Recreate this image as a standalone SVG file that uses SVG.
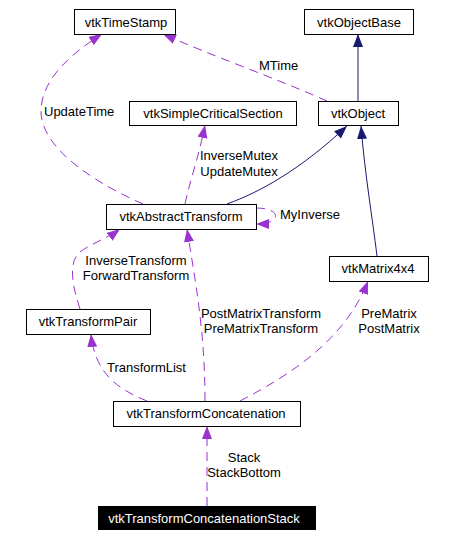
<svg xmlns="http://www.w3.org/2000/svg" width="450" height="538" viewBox="0 0 450 538">
<style>
text{font-family:"Liberation Sans",Arial,sans-serif;font-size:13px;fill:#000}
.n rect{fill:#fff;stroke:#000;stroke-width:1}
.n text{text-anchor:middle}
.u{fill:none;stroke:#9a32cd;stroke-width:1;stroke-dasharray:9,6}
.h{fill:none;stroke:#191970;stroke-width:1}
.m{text-anchor:middle}
</style>
<defs>
<marker id="ap" markerUnits="userSpaceOnUse" markerWidth="14" markerHeight="11" refX="13" refY="5" orient="auto"><path d="M0,0L13,5L0,10z" fill="#9a32cd"/></marker>
<marker id="an" markerUnits="userSpaceOnUse" markerWidth="14" markerHeight="11" refX="13" refY="5" orient="auto"><path d="M0,0L13,5L0,10z" fill="#191970"/></marker>
</defs>
<g id="connectors">
<path class="h" d="M358,101L358,34" marker-end="url(#an)"/>
<path class="u" d="M327,101C280,80 210,55 163,34" marker-end="url(#ap)"/>
<path class="u" d="M143,204C100,185 40,150 41,110C42,75 80,48 102,34" marker-end="url(#ap)"/>
<path class="u" d="M185,204C190,180 198,160 205,125" marker-end="url(#ap)"/>
<path class="h" d="M227,204C260,192 300,170 347,126" marker-end="url(#an)"/>
<path class="h" d="M377,256C372,215 365,175 361,126" marker-end="url(#an)"/>
<path class="u" d="M256,208C282,208 282,224 256,224" marker-end="url(#ap)"/>
<path class="u" d="M80,309C72,285 68,262 80,252C92,243 108,238 120,229" marker-end="url(#ap)"/>
<path class="u" d="M205,401C205,330 195,280 187,229" marker-end="url(#ap)"/>
<path class="u" d="M147,401C120,390 95,375 91,334" marker-end="url(#ap)"/>
<path class="u" d="M240,401C290,375 345,340 368,281" marker-end="url(#ap)"/>
<path class="u" d="M207,506L207,426" marker-end="url(#ap)"/>
<text x="259" y="70">MTime</text>
<text x="44" y="116">UpdateTime</text>
<text class="m" x="239" y="160">InverseMutex</text>
<text class="m" x="239" y="176">UpdateMutex</text>
<text x="280" y="219">MyInverse</text>
<text class="m" x="136" y="265">InverseTransform</text>
<text class="m" x="136" y="280">ForwardTransform</text>
<text class="m" x="261" y="318">PostMatrixTransform</text>
<text class="m" x="261" y="333">PreMatrixTransform</text>
<text class="m" x="389" y="318">PreMatrix</text>
<text class="m" x="389" y="333">PostMatrix</text>
<text x="107" y="372">TransformList</text>
<text class="m" x="244" y="462">Stack</text>
<text class="m" x="244" y="477">StackBottom</text>
</g>
<g id="vtkTimeStamp" class="n"><rect x="74.5" y="9.5" width="101" height="25"/><text x="126" y="26.5">vtkTimeStamp</text></g>
<g id="vtkObjectBase" class="n"><rect x="304.5" y="9.5" width="109" height="25"/><text x="359" y="26.5">vtkObjectBase</text></g>
<g id="vtkSimpleCriticalSection" class="n"><rect x="129.5" y="101.5" width="167" height="24"/><text x="213" y="118">vtkSimpleCriticalSection</text></g>
<g id="vtkObject" class="n"><rect x="318.5" y="101.5" width="80" height="24"/><text x="358" y="118">vtkObject</text></g>
<g id="vtkAbstractTransform" class="n"><rect x="106.5" y="204.5" width="150" height="25"/><text x="181" y="221">vtkAbstractTransform</text></g>
<g id="vtkMatrix4x4" class="n"><rect x="329.5" y="256.5" width="99" height="25"/><text x="378" y="273">vtkMatrix4x4</text></g>
<g id="vtkTransformPair" class="n"><rect x="26.5" y="309.5" width="124" height="25"/><text x="88" y="326">vtkTransformPair</text></g>
<g id="vtkTransformConcatenation" class="n"><rect x="113.5" y="401.5" width="187" height="25"/><text x="206" y="418">vtkTransformConcatenation</text></g>
<g id="vtkTransformConcatenationStack"><rect x="98" y="506" width="218" height="24" fill="#000"/><text x="204" y="523" text-anchor="middle" style="fill:#fff">vtkTransformConcatenationStack</text></g>
</svg>
